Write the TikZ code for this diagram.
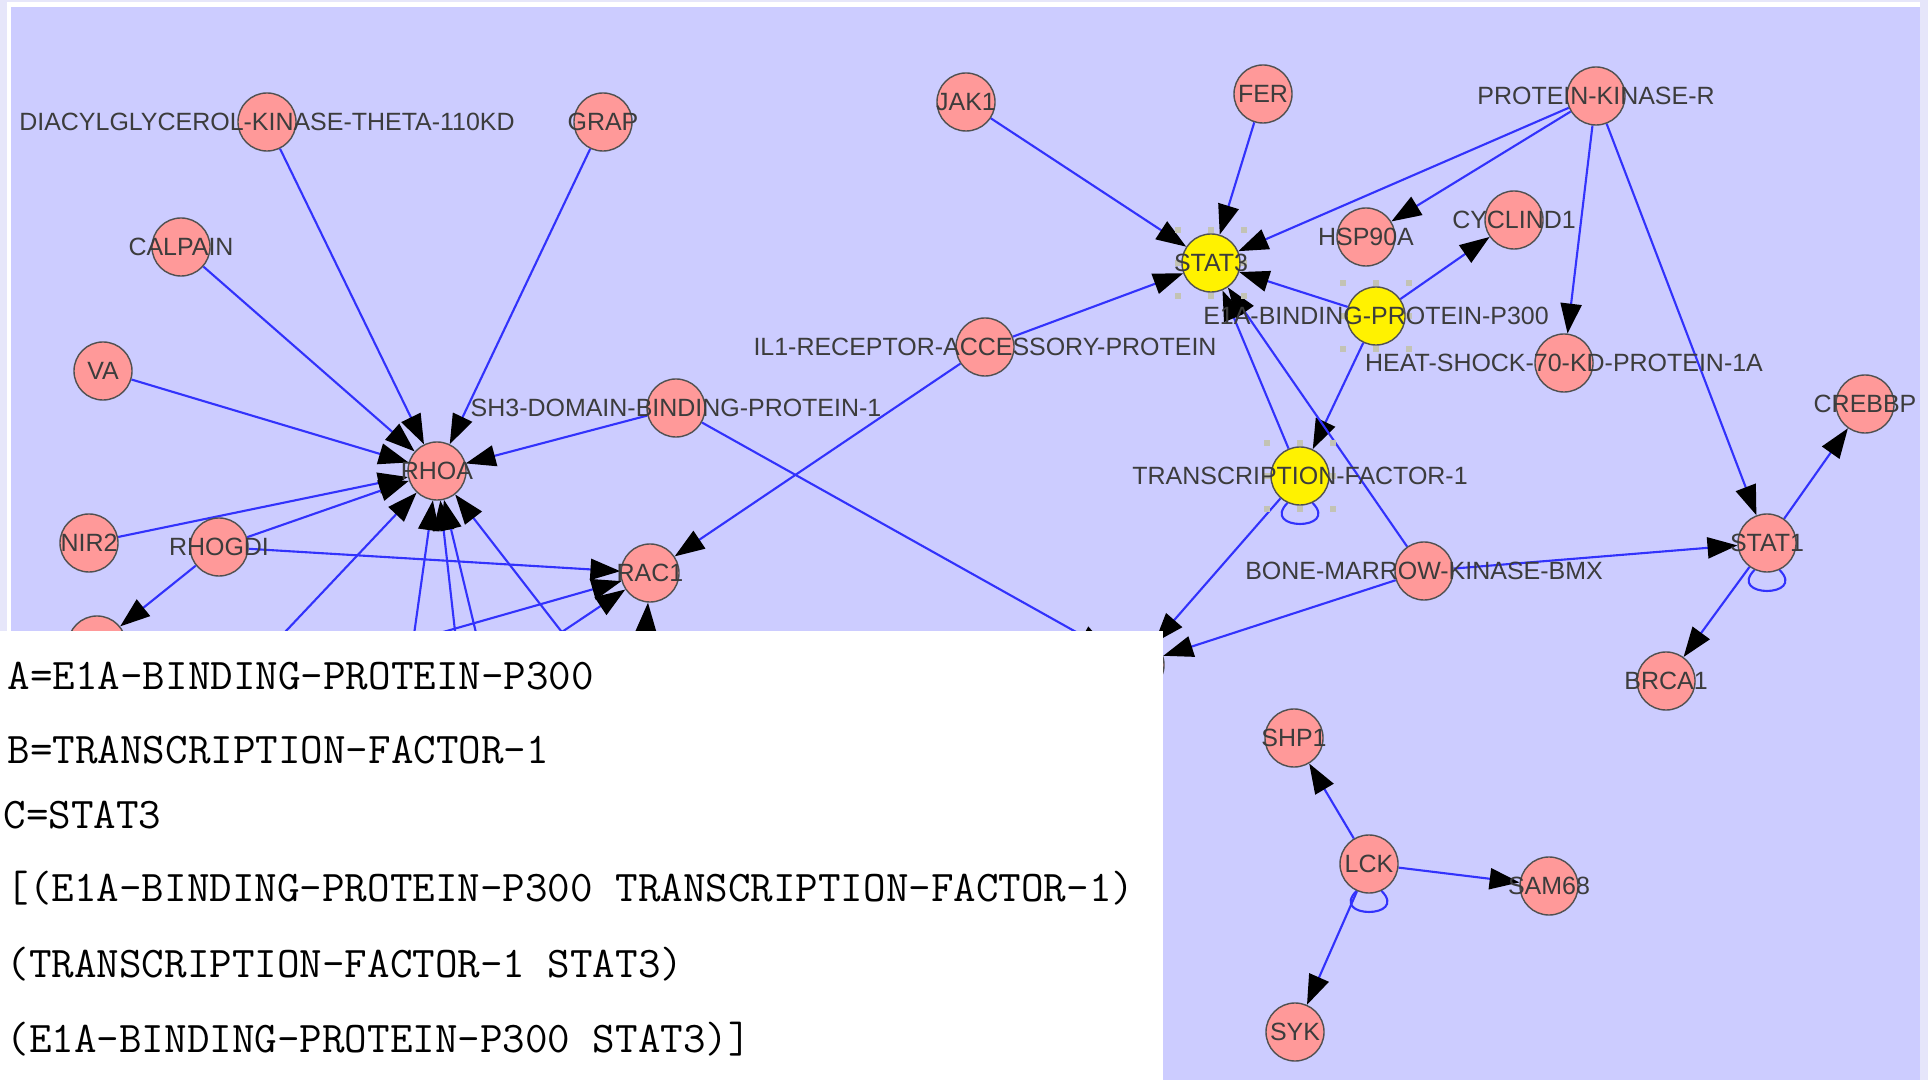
\documentclass[tikz,border=0pt]{standalone}
\usepackage{fontspec}
\newfontfamily\lblfont{Liberation Sans}
\usetikzlibrary{arrows.meta,calc}
\pgfdeclarelayer{bg}
\pgfdeclarelayer{edges}
\pgfsetlayers{bg,edges,main}

\definecolor{lav}{RGB}{204,204,255}
\definecolor{lavlight}{RGB}{230,230,250}
\definecolor{edgeblue}{RGB}{50,50,252}
\definecolor{pinknode}{RGB}{255,153,153}
\definecolor{nodeline}{RGB}{80,80,80}
\definecolor{lbltext}{RGB}{60,60,60}
\definecolor{handle}{RGB}{195,195,180}

\tikzset{
  pnode/.style={circle, draw=nodeline, line width=0.4pt, fill=pinknode,
                minimum size=0.58cm, inner sep=0pt},
  ynode/.style={pnode, fill=yellow},
  lbl/.style={font=\lblfont\fontsize{7.1}{8}\selectfont, text=lbltext, inner sep=0pt},
  edge/.style={draw=edgeblue, line width=0.6pt,
               -{Triangle[length=8.5pt,width=6pt,color=black]}},
  loopline/.style={draw=edgeblue, line width=0.6pt},
  listing/.style={font=\ttfamily\fontsize{12.45}{14}\selectfont, inner sep=0pt, anchor=base west},
}

\begin{document}
\begin{tikzpicture}[x=0.01cm, y=-0.01cm]
\useasboundingbox (0,0) rectangle (1928,1080);

% panel background
\begin{pgfonlayer}{bg}
  \fill[lavlight] (0,0) rectangle (1928,1080);
  \fill[white] (7,2) rectangle (1920,1080);
  \fill[lav] (11,7) rectangle (1920,1080);
\end{pgfonlayer}

% network nodes
\node[pnode] (diacyl)   at (267,122) {};
\node[pnode] (grap)     at (603,122) {};
\node[pnode] (calpain)  at (181,247) {};
\node[pnode] (va)       at (103,371) {};
\node[pnode] (rhoa)     at (437,471) {};
\node[pnode] (sh3)      at (676,408) {};
\node[pnode] (nir2)     at (89,543) {};
\node[pnode] (rhogdi)   at (219,547) {};
\node[pnode] (rac1)     at (650,573) {};
\node[pnode] (hidA)     at (97,645) {};
\node[pnode] (il1)      at (985,347) {};
\node[pnode] (jak1)     at (966,102) {};
\node[pnode] (fer)      at (1263,94) {};
\node[ynode] (stat3)    at (1211,263) {};
\node[pnode] (pkr)      at (1596,96) {};
\node[pnode] (hsp90a)   at (1366,237) {};
\node[pnode] (cyclind1) at (1514,220) {};
\node[ynode] (e1a)      at (1376,316) {};
\node[pnode] (hs70)     at (1564,363) {};
\node[pnode] (crebbp)   at (1865,404) {};
\node[ynode] (tf1)      at (1300,476) {};
\node[pnode] (bmx)      at (1424,571) {};
\node[pnode] (stat1)    at (1767,543) {};
\node[pnode] (brca1)    at (1666,681) {};
\node[pnode] (hidB)     at (1135,665) {};
\node[pnode] (shp1)     at (1294,738) {};
\node[pnode] (lck)      at (1369,864) {};
\node[pnode] (sam68)    at (1549,886) {};
\node[pnode] (syk)      at (1295,1032) {};

% free ends of links that run below the legend
\coordinate (h1) at (202,720);
\coordinate (h2) at (402,720);
\coordinate (h3) at (465,720);
\coordinate (h4) at (497,720);
\coordinate (h5) at (630,720);
\coordinate (h6) at (380,650);
\coordinate (h7) at (520,660);
\coordinate (h8) at (640,720);

% links
\begin{pgfonlayer}{edges}
  \draw[edge] (diacyl) -- (rhoa);
  \draw[edge] (grap) -- (rhoa);
  \draw[edge] (calpain) -- (rhoa);
  \draw[edge] (va) -- (rhoa);
  \draw[edge] (sh3) -- (rhoa);
  \draw[edge] (nir2) -- (rhoa);
  \draw[edge] (rhogdi) -- (rhoa);
  \draw[edge] (rhogdi) -- (rac1);
  \draw[edge] (rhogdi) -- (hidA);
  \draw[edge] (h1) -- (rhoa);
  \draw[edge] (h2) -- (rhoa);
  \draw[edge] (h3) -- (rhoa);
  \draw[edge] (h4) -- (rhoa);
  \draw[edge] (h5) -- (rhoa);
  \draw[edge] (h6) -- (rac1);
  \draw[edge] (h7) -- (rac1);
  \draw[edge] (h8) -- (rac1);
  \draw[edge] (il1) -- (rac1);
  \draw[edge] (il1) -- (stat3);
  \draw[edge] (sh3) -- (hidB);
  \draw[edge] (jak1) -- (stat3);
  \draw[edge] (fer) -- (stat3);
  \draw[edge] (pkr) -- (stat3);
  \draw[edge] (pkr) -- (hsp90a);
  \draw[edge] (pkr) -- (hs70);
  \draw[edge] (pkr) -- (stat1);
  \draw[edge] (e1a) -- (stat3);
  \draw[edge] (e1a) -- (cyclind1);
  \draw[edge] (e1a) -- (tf1);
  \draw[edge] (tf1) -- (stat3);
  \draw[edge] (bmx) -- (stat3);
  \draw[edge] (tf1) -- (hidB);
  \draw[edge] (bmx) -- (hidB);
  \draw[edge] (bmx) -- (stat1);
  \draw[edge] (stat1) -- (crebbp);
  \draw[edge] (stat1) -- (brca1);
  \draw[edge] (lck) -- (shp1);
  \draw[edge] (lck) -- (sam68);
  \draw[edge] (lck) -- (syk);
  % self loops
  \foreach \n in {tf1,stat1,lck}{
    \draw[loopline] (\n.-115) .. controls ($(\n)+(-40,55)$) and ($(\n)+(40,55)$) .. (\n.-65);
  }
\end{pgfonlayer}

% selection handles round the highlighted nodes
\foreach \n in {stat3,e1a,tf1}{
  \foreach \dx/\dy in {-33/-33,0/-33,33/-33,-33/0,33/0,-33/33,0/33,33/33}{
    \fill[handle] ($(\n)+(\dx,\dy)+(-3,-3)$) rectangle ($(\n)+(\dx,\dy)+(3,3)$);
  }
}

% node names
\node[lbl] (diacyl-t)   at (diacyl)   {DIACYLGLYCEROL-KINASE-THETA-110KD};
\node[lbl] (grap-t)     at (grap)     {GRAP};
\node[lbl] (calpain-t)  at (calpain)  {CALPAIN};
\node[lbl] (va-t)       at (va)       {VA};
\node[lbl] (rhoa-t)     at (rhoa)     {RHOA};
\node[lbl] (sh3-t)      at (sh3)      {SH3-DOMAIN-BINDING-PROTEIN-1};
\node[lbl] (nir2-t)     at (nir2)     {NIR2};
\node[lbl] (rhogdi-t)   at (rhogdi)   {RHOGDI};
\node[lbl] (rac1-t)     at (rac1)     {RAC1};
\node[lbl] (il1-t)      at (il1)      {IL1-RECEPTOR-ACCESSORY-PROTEIN};
\node[lbl] (jak1-t)     at (jak1)     {JAK1};
\node[lbl] (fer-t)      at (fer)      {FER};
\node[lbl] (stat3-t)    at (stat3)    {STAT3};
\node[lbl] (pkr-t)      at (pkr)      {PROTEIN-KINASE-R};
\node[lbl] (hsp90a-t)   at (hsp90a)   {HSP90A};
\node[lbl] (cyclind1-t) at (cyclind1) {CYCLIND1};
\node[lbl] (e1a-t)      at (e1a)      {E1A-BINDING-PROTEIN-P300};
\node[lbl] (hs70-t)     at (hs70)     {HEAT-SHOCK-70-KD-PROTEIN-1A};
\node[lbl] (crebbp-t)   at (crebbp)   {CREBBP};
\node[lbl] (tf1-t)      at (tf1)      {TRANSCRIPTION-FACTOR-1};
\node[lbl] (bmx-t)      at (bmx)      {BONE-MARROW-KINASE-BMX};
\node[lbl] (stat1-t)    at (stat1)    {STAT1};
\node[lbl] (brca1-t)    at (brca1)    {BRCA1};
\node[lbl] (shp1-t)     at (shp1)     {SHP1};
\node[lbl] (lck-t)      at (lck)      {LCK};
\node[lbl] (sam68-t)    at (sam68)    {SAM68};
\node[lbl] (syk-t)      at (syk)      {SYK};

% legend panel
\fill[white] (0,631) rectangle (1163,1080);
\node[listing] (ln1) at (7,690)  {A=E1A-BINDING-PROTEIN-P300};
\node[listing] (ln2) at (7,764)  {B=TRANSCRIPTION-FACTOR-1};
\node[listing] (ln3) at (3,828)  {C=STAT3};
\node[listing] (ln4) at (6,901)  {[(E1A-BINDING-PROTEIN-P300 TRANSCRIPTION-FACTOR-1)};
\node[listing] (ln5) at (6,977)  {(TRANSCRIPTION-FACTOR-1 STAT3)};
\node[listing] (ln6) at (6,1052) {(E1A-BINDING-PROTEIN-P300 STAT3)]};
\end{tikzpicture}
\end{document}
